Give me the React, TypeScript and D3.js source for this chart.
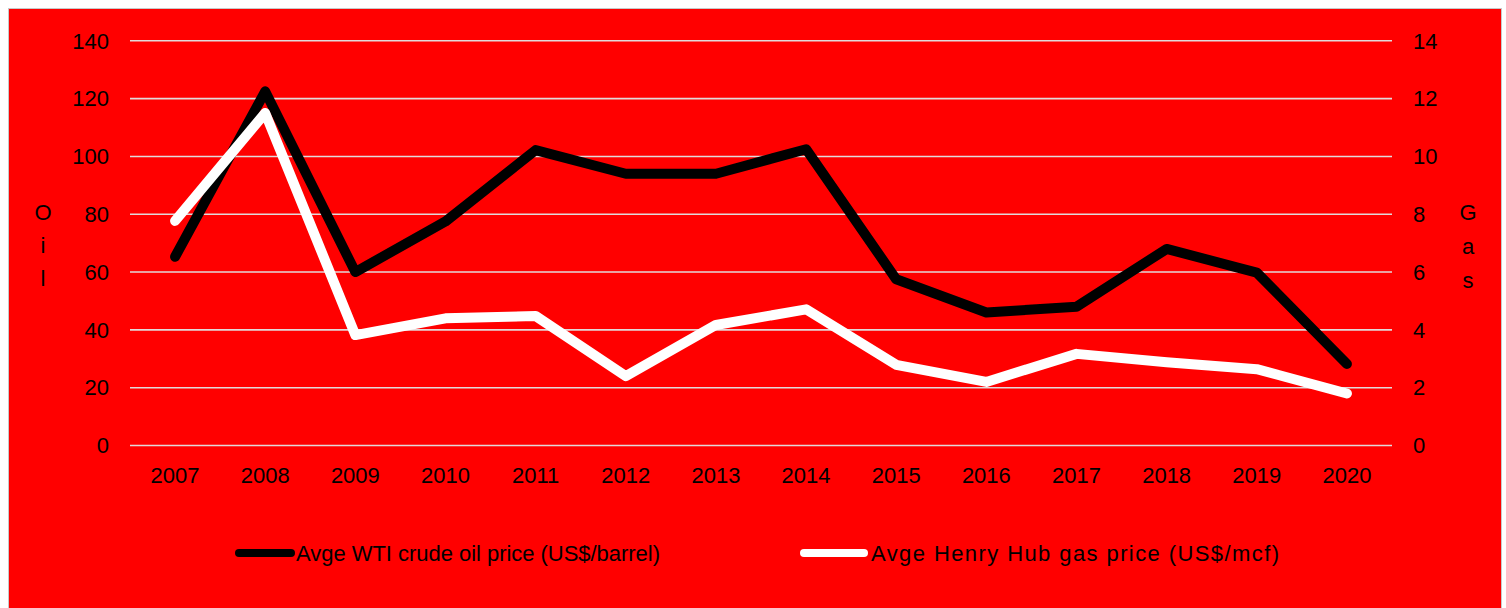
import React from 'react';
import * as d3 from 'd3';

// values
const years = ['2007', '2008', '2009', '2010', '2011', '2012', '2013', '2014', '2015', '2016', '2017', '2018', '2019', '2020'];
const oilPrice = [65.3, 122.5, 60, 77.5, 102.2, 94, 94, 102.5, 57.5, 46, 48, 68, 59.8, 28.2];
const gasPrice = [7.77, 11.5, 3.82, 4.4, 4.48, 2.4, 4.17, 4.71, 2.79, 2.2, 3.17, 2.88, 2.64, 1.8];
const oilTicks = [0, 20, 40, 60, 80, 100, 120, 140];
const gasTicks = [0, 2, 4, 6, 8, 10, 12, 14];
const legendLabels = ['Avge WTI crude oil price (US$/barrel)', 'Avge Henry Hub gas price (US$/mcf)'];

export default class App extends React.Component {
  ref = React.createRef<SVGSVGElement>();

  sizing = {
    width: 1494,
    height: 600,
    left: 122,
    right: 1384,
    top: 32.8,
    bottom: 437.5,
  };

  font = '"Liberation Sans", Arial, sans-serif';

  setupDom(): void {
    const svgNode = this.ref.current;
    if (!svgNode) return;
    const {width, height, left, right, top, bottom} = this.sizing;

    const svg = d3.select(svgNode);
    svg.selectAll('*').remove();

    svg.append('rect')
      .attr('x', 0.5)
      .attr('y', 0.5)
      .attr('width', width - 1)
      .attr('height', height + 10)
      .attr('fill', '#ff0000')
      .attr('stroke', '#c8c8c8')
      .attr('stroke-width', 1);

    const xScale = d3.scaleBand()
      .range([left, right])
      .domain(years);

    const yOil = d3.scaleLinear().range([bottom, top]).domain([0, 140]);
    const yGas = d3.scaleLinear().range([bottom, top]).domain([0, 14]);

    // gridlines
    svg.append('g')
      .selectAll('line')
      .data(oilTicks)
      .enter().append('line')
      .attr('x1', left)
      .attr('x2', right)
      .attr('y1', d => yOil(d))
      .attr('y2', d => yOil(d))
      .attr('stroke', '#e2dada')
      .attr('stroke-width', 1.6);

    const textGroup = svg.append('g')
      .attr('font-family', this.font)
      .attr('font-size', 22)
      .attr('fill', '#000');

    textGroup.selectAll('.tick-left')
      .data(oilTicks)
      .enter().append('text')
      .attr('class', 'tick-left')
      .attr('x', 101)
      .attr('y', d => yOil(d))
      .attr('dy', '0.35em')
      .attr('text-anchor', 'end')
      .text(d => d);

    textGroup.selectAll('.tick-right')
      .data(gasTicks)
      .enter().append('text')
      .attr('class', 'tick-right')
      .attr('x', 1405)
      .attr('y', d => yGas(d))
      .attr('dy', '0.35em')
      .text(d => d);

    textGroup.selectAll('.tick-x')
      .data(years)
      .enter().append('text')
      .attr('class', 'tick-x')
      .attr('x', d => (xScale(d) as number) + xScale.bandwidth() / 2)
      .attr('y', 475)
      .attr('text-anchor', 'middle')
      .text(d => d);

    // stacked axis titles
    const oilLetters = ['O', 'i', 'l'];
    const gasLetters = ['G', 'a', 's'];
    textGroup.selectAll('.title-left')
      .data(oilLetters)
      .enter().append('text')
      .attr('class', 'title-left')
      .attr('x', 35)
      .attr('y', (_d, i) => 204 + i * 33)
      .attr('dy', '0.35em')
      .attr('text-anchor', 'middle')
      .text(d => d);
    textGroup.selectAll('.title-right')
      .data(gasLetters)
      .enter().append('text')
      .attr('class', 'title-right')
      .attr('x', 1460)
      .attr('y', (_d, i) => 204 + i * 34)
      .attr('dy', '0.35em')
      .attr('text-anchor', 'middle')
      .text(d => d);

    const xPos = (i: number) => (xScale(years[i]) as number) + xScale.bandwidth() / 2;

    const oilLine = d3.line<number>()
      .x((_d, i) => xPos(i))
      .y(d => yOil(d));
    const gasLine = d3.line<number>()
      .x((_d, i) => xPos(i))
      .y(d => yGas(d));

    svg.append('path')
      .datum(oilPrice)
      .attr('d', oilLine)
      .attr('fill', 'none')
      .attr('stroke', '#000')
      .attr('stroke-width', 10)
      .attr('stroke-linejoin', 'round')
      .attr('stroke-linecap', 'round');

    svg.append('path')
      .datum(gasPrice)
      .attr('d', gasLine)
      .attr('fill', 'none')
      .attr('stroke', '#fff')
      .attr('stroke-width', 10)
      .attr('stroke-linejoin', 'round')
      .attr('stroke-linecap', 'round');

    // legend (the gas label is spread wider in the original)
    const legendItems = [
      {label: legendLabels[0], color: '#000', x1: 231, x2: 283, tx: 288, len: 364},
      {label: legendLabels[1], color: '#fff', x1: 796, x2: 856, tx: 863, len: 408},
    ];
    const legend = svg.append('g');
    legend.selectAll('line')
      .data(legendItems)
      .enter().append('line')
      .attr('x1', d => d.x1)
      .attr('x2', d => d.x2)
      .attr('y1', 545)
      .attr('y2', 545)
      .attr('stroke', d => d.color)
      .attr('stroke-width', 8)
      .attr('stroke-linecap', 'round');
    legend.selectAll('text')
      .data(legendItems)
      .enter().append('text')
      .attr('x', d => d.tx)
      .attr('y', 545)
      .attr('dy', '0.35em')
      .attr('textLength', d => d.len)
      .attr('lengthAdjust', 'spacing')
      .attr('font-family', this.font)
      .attr('font-size', 22)
      .attr('fill', '#000')
      .text(d => d.label);
  }

  componentDidMount(): void {
    this.setupDom();
  }

  render(): React.ReactNode {
    return (
      <svg
        ref={this.ref}
        width={this.sizing.width}
        height={this.sizing.height}
        style={{position: 'fixed', left: 8, top: 8, display: 'block'}}
      />
    );
  }
}
